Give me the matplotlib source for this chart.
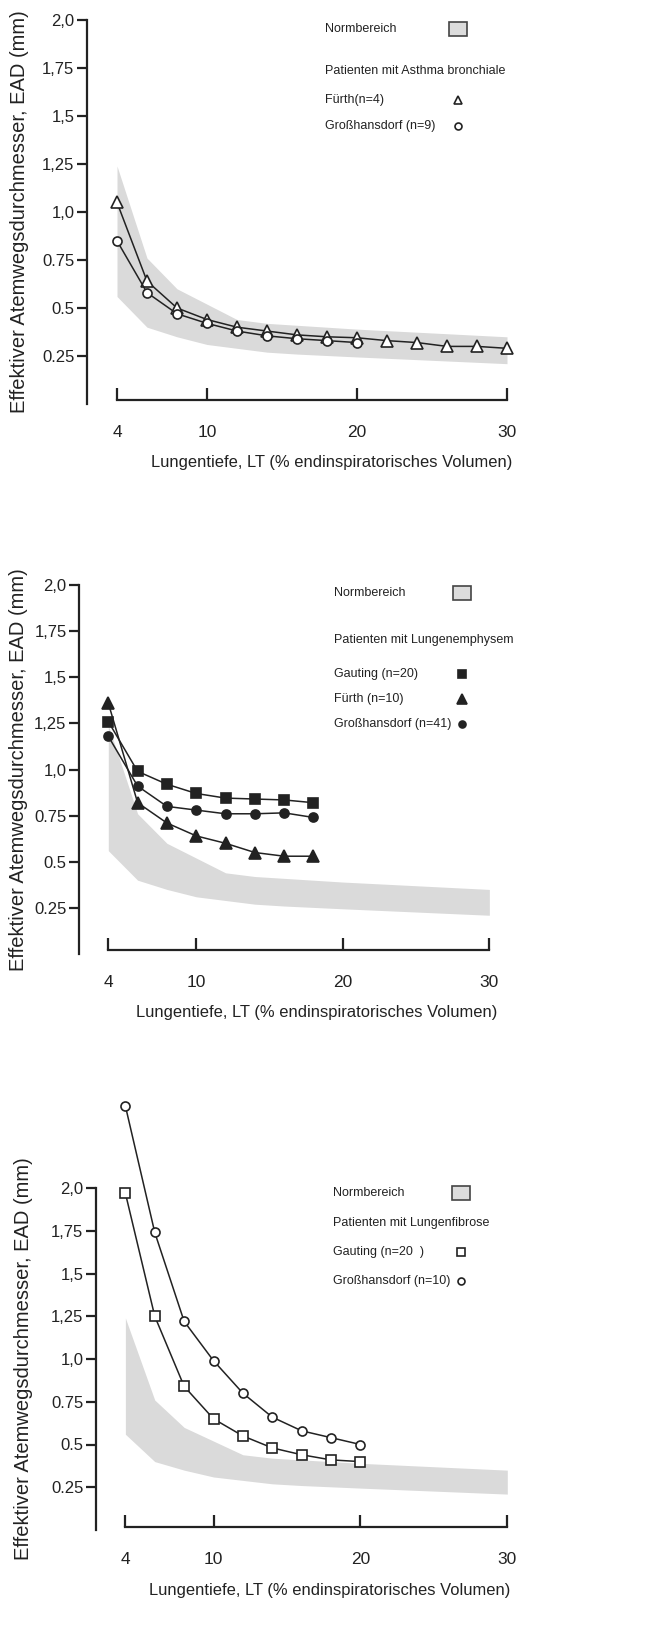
import matplotlib
matplotlib.use("Agg")
import matplotlib.pyplot as plt
from matplotlib.patches import Rectangle

plt.rcParams['font.family'] = ['Liberation Sans Narrow', 'Liberation Sans', 'DejaVu Sans']

W, H = 660, 1641
INK = '#222222'
BAND = '#dadada'

# lung depth values (x)
lt = [4, 6, 8, 10, 12, 14, 16, 18, 20, 22, 24, 26, 28, 30]

# normal range (Normbereich)
norm_x = [4, 6, 8, 10, 12, 14, 16, 20, 30]
norm_hi = [1.24, 0.76, 0.60, 0.52, 0.44, 0.42, 0.41, 0.39, 0.35]
norm_lo = [0.56, 0.40, 0.35, 0.31, 0.29, 0.27, 0.26, 0.245, 0.21]

x_ticks = [4, 10, 20, 30]
y_ticks = [0.25, 0.5, 0.75, 1.0, 1.25, 1.5, 1.75, 2.0]
y_labels = ["0.25", "0.5", "0.75", "1,0", "1,25", "1,5", "1,75", "2,0"]

# panel 1: Asthma bronchiale
asthma_fuerth = [1.05, 0.64, 0.50, 0.44, 0.40, 0.38, 0.36, 0.35, 0.345, 0.33, 0.32, 0.30, 0.30, 0.29]
asthma_gh = [0.85, 0.58, 0.47, 0.42, 0.38, 0.355, 0.34, 0.33, 0.32]

# panel 2: Lungenemphysem
emph_gauting = [1.26, 0.99, 0.92, 0.87, 0.845, 0.84, 0.835, 0.82]
emph_fuerth = [1.36, 0.82, 0.71, 0.64, 0.60, 0.55, 0.53, 0.53]
emph_gh = [1.18, 0.91, 0.80, 0.78, 0.76, 0.76, 0.765, 0.74]

# panel 3: Lungenfibrose
fib_gauting = [1.97, 1.25, 0.84, 0.65, 0.55, 0.48, 0.44, 0.41, 0.40]
fib_gh = [2.48, 1.74, 1.22, 0.99, 0.80, 0.66, 0.58, 0.54, 0.50]

fig = plt.figure(figsize=(W / 100, H / 100), dpi=100)


def fx(px):
    return px / W


def fy(py):
    return 1 - py / H


def make_axes(left, right, top, bottom, label_x):
    ax = fig.add_axes([fx(left), fy(bottom), fx(right) - fx(left), fy(top) - fy(bottom)])
    ax.set_xlim(2, 31)
    ax.set_ylim(0, 2.0)
    for s in ['top', 'right']:
        ax.spines[s].set_visible(False)
    ax.spines['left'].set_linewidth(1.6)
    ax.spines['left'].set_color(INK)
    ax.spines['bottom'].set_linewidth(1.6)
    ax.spines['bottom'].set_color(INK)
    ax.spines['bottom'].set_bounds(4, 30)
    ax.spines['bottom'].set_position(('data', 0.02))
    ax.set_xticks(x_ticks)
    ax.set_xticklabels([str(v) for v in x_ticks])
    ax.set_yticks(y_ticks)
    ax.set_yticklabels(y_labels)
    ax.tick_params(axis='x', direction='in', length=9, width=1.6, pad=18,
                   labelsize=12.5, colors=INK)
    ax.tick_params(axis='y', direction='out', length=7, width=1.6, pad=2,
                   labelsize=12, colors=INK)
    ax.patch.set_visible(False)
    ax.fill_between(norm_x, norm_lo, norm_hi, color=BAND, lw=0, zorder=1)
    ax.set_ylabel("Effektiver Atemwegsdurchmesser, EAD (mm)", fontsize=14.5, color=INK)
    ax.yaxis.set_label_coords((label_x - left) / (right - left), 0.5)
    return ax


def series(ax, y, marker, filled, ms):
    ax.plot(lt[:len(y)], y, color=INK, lw=1.1, marker=marker, ms=ms,
            mfc=INK if filled else 'white', mec=INK, mew=1.2, clip_on=False, zorder=3)


def legend(ax, tx, mx, rows, header, box_y, header_y):
    fig.text(fx(tx), fy(box_y), "Normbereich", fontsize=9, color=INK, va='center')
    fig.patches.append(Rectangle((fx(mx - 9), fy(box_y + 7)), fx(18), fy(0) - fy(14),
                                 transform=fig.transFigure, facecolor='#dcdcdc',
                                 edgecolor='#444444', lw=1.2))
    fig.text(fx(tx), fy(header_y), header, fontsize=9, color=INK, va='center')
    for label, py, marker, filled, ms in rows:
        fig.text(fx(tx), fy(py), label, fontsize=9, color=INK, va='center')
        ax.plot([fx(mx)], [fy(py)], marker=marker, ms=ms, mfc=INK if filled else 'white',
                mec=INK, mew=1.2, transform=fig.transFigure, clip_on=False)


def xlabel(right, py):
    fig.text(fx(right), fy(py), "Lungentiefe, LT (% endinspiratorisches Volumen)",
             fontsize=11.9, color=INK, ha='right', va='center')


# Panel 1
ax1 = make_axes(87, 522, 20, 404, 29)
series(ax1, asthma_fuerth, '^', False, 8)
series(ax1, asthma_gh, 'o', False, 6.5)
legend(ax1, 325, 458, [("Fürth(n=4)", 100, '^', False, 6),
                       ("Großhansdorf (n=9)", 126, 'o', False, 5)],
       "Patienten mit Asthma bronchiale", 29, 71)
xlabel(512, 462)

# Panel 2
ax2 = make_axes(79, 504, 585, 954, 28)
series(ax2, emph_gauting, 's', True, 6.5)
series(ax2, emph_gh, 'o', True, 6.5)
series(ax2, emph_fuerth, '^', True, 8)
legend(ax2, 334, 462, [("Gauting (n=20)", 674, 's', True, 5.5),
                       ("Fürth (n=10)", 699, '^', True, 6.5),
                       ("Großhansdorf (n=41)", 724, 'o', True, 5)],
       "Patienten mit Lungenemphysem", 593, 640)
xlabel(497, 1013)

# Panel 3
ax3 = make_axes(96, 522, 1188, 1530, 33)
series(ax3, fib_gauting, 's', False, 7)
series(ax3, fib_gh, 'o', False, 6.5)
legend(ax3, 333, 461, [("Gauting (n=20  )", 1252, 's', False, 5.5),
                       ("Großhansdorf (n=10)", 1281, 'o', False, 5)],
       "Patienten mit Lungenfibrose", 1193, 1223)
xlabel(510, 1590)

fig.savefig("out.png", dpi=100)
